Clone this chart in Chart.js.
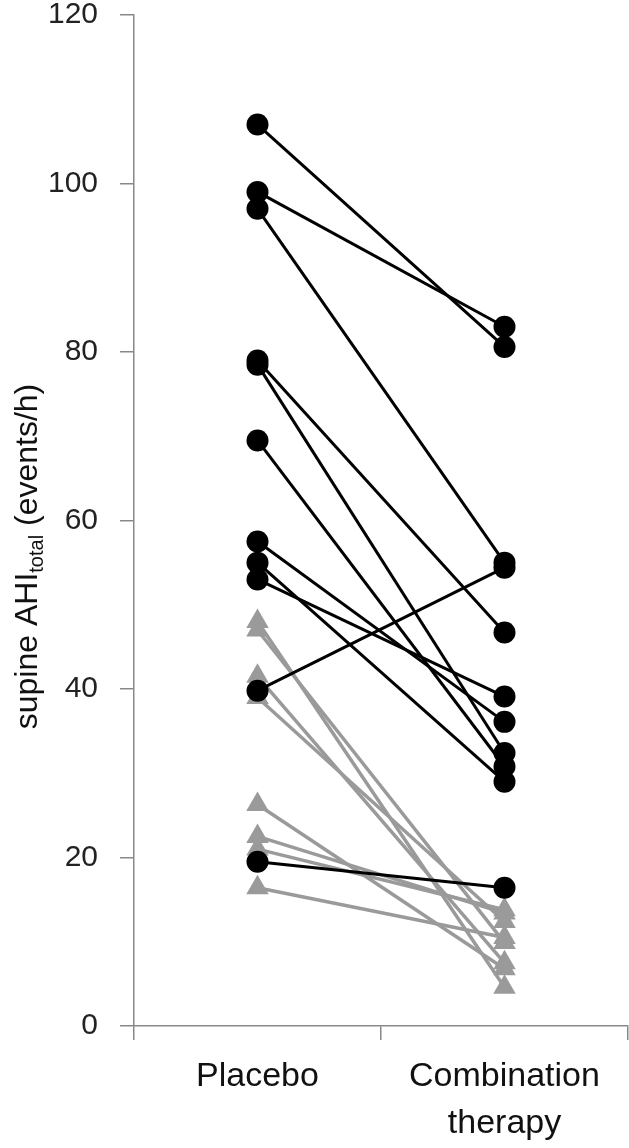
<!DOCTYPE html>
<html>
<head>
<meta charset="utf-8">
<script src="https://cdn.jsdelivr.net/npm/chart.js@4.4.0/dist/chart.umd.min.js"></script>
<style>
  html, body { margin: 0; padding: 0; background: #fff; overflow: hidden; }
  canvas { display: block; }
</style>
</head>
<body>
<canvas id="chartCanvas" width="629" height="1148"></canvas>
<script>
/* global Chart */

const GROUPS        = ['Placebo', ['Combination', 'therapy']];
const Y_TICK_STEP   = 20;
const Y_MAX         = 120;

// black circles, one entry per subject (placebo -> combination)
const blackPlacebo  = [107, 99, 97, 79, 78.5, 69.5, 57.5, 55, 53, 39.8, 19.5];
const blackCombo    = [80.6, 83, 55, 46.7, 32.4, 30.8, 36.1, 29, 39.1, 54.4, 16.4];

// grey triangles
const greyPlacebo   = [48, 47, 41.5, 39, 26.3, 22.5, 21, 16.4];
const greyCombo     = [4.6, 9.9, 7.5, 12.4, 6.8, 13.4, 13.8, 10.5];

const FONT_FAMILY   = "'Liberation Sans', Arial, sans-serif";
const AXIS_COLOR    = '#888888';
const PLOT_RIGHT    = 628;

var makeSubject = function makeSubject(placebo, combo, color, style, radius, width) {
   return {
      data:             [placebo, combo],
      borderColor:      color,
      backgroundColor:  color,
      borderWidth:      width,
      pointStyle:       style,
      pointRadius:      radius,
      pointHoverRadius: radius,
      pointBorderWidth: 0,
      tension:          0
   };
};

// black first: dataset 0 is drawn last, so circles sit on the triangles
var datasets = [];
blackPlacebo.forEach((v, i) => datasets.push(makeSubject(v, blackCombo[i], '#000000', 'circle', 11, 3)));
greyPlacebo.forEach((v, i) => datasets.push(makeSubject(v, greyCombo[i], '#9a9a9a', 'triangle', 13, 3.5)));

// stretch the category axis out to the right edge of the canvas
var stretchRight = {
   id: 'stretchRight',
   afterLayout: function afterLayout(chart) {
      const xs    = chart.scales.x;
      const shift = PLOT_RIGHT - chart.chartArea.right;
      if (shift <= 0) {
         return;
      }
      xs.right            += shift;
      xs.width            += shift;
      chart.chartArea.right += shift;
      chart.chartArea.width += shift;
      xs.configure();
   }
};

var axisTitle = {
   id: 'axisTitle',
   afterDraw: function afterDraw(chart) {
      const ctx  = chart.ctx;
      const area = chart.chartArea;
      const cy   = (area.top + area.bottom) / 2 + 36;
      const big  = '32px ' + FONT_FAMILY;
      const sub  = '20px ' + FONT_FAMILY;
      const parts = [
         { text: 'supine AHI', font: big, shift: 0 },
         { text: 'total',      font: sub, shift: 6 },
         { text: ' (events/h)', font: big, shift: 0 }
      ];

      ctx.save();
      ctx.fillStyle    = '#111111';
      ctx.textBaseline = 'alphabetic';
      ctx.textAlign    = 'left';
      var total = 0;
      parts.forEach(p => { ctx.font = p.font; p.w = ctx.measureText(p.text).width; total += p.w; });
      ctx.translate(37, cy);
      ctx.rotate(-Math.PI / 2);
      var x = -total / 2;
      parts.forEach(p => {
         ctx.font = p.font;
         ctx.fillText(p.text, x, p.shift);
         x += p.w;
      });
      ctx.restore();
   }
};

var chartConfig = {
   type: 'line',
   data: {
      labels:   GROUPS,
      datasets: datasets
   },
   options: {
      responsive:          false,
      animation:           false,
      devicePixelRatio:    1,
      layout: {
         padding: { top: 15, right: 0, left: 0, bottom: 0 }
      },
      plugins: {
         legend:  { display: false },
         tooltip: { enabled: false }
      },
      scales: {
         x: {
            type:   'category',
            offset: true,
            grid: {
               offset:          true,
               drawOnChartArea: false,
               color:           AXIS_COLOR,
               lineWidth:       1.5,
               tickLength:      14
            },
            border: { color: AXIS_COLOR, width: 1.5 },
            ticks: {
               color:       '#111111',
               font:        { size: 34, family: FONT_FAMILY, lineHeight: 1.38 },
               padding:     13,
               maxRotation: 0,
               autoSkip:    false
            },
            afterFit: function afterFit(scale) {
               scale.height       = 122;
               scale.paddingLeft  = 0;
               scale.paddingRight = 0;
            }
         },
         y: {
            min: 0,
            max: Y_MAX,
            grid: {
               drawOnChartArea: false,
               color:           AXIS_COLOR,
               lineWidth:       1.5,
               tickLength:      14
            },
            border: { color: AXIS_COLOR, width: 1.5 },
            ticks: {
               stepSize: Y_TICK_STEP,
               color:    '#222222',
               font:     { size: 30, family: FONT_FAMILY },
               padding:  22
            },
            afterFit: function afterFit(scale) {
               scale.width         = 134;
               scale.paddingTop    = 0;
               scale.paddingBottom = 0;
            }
         }
      }
   },
   plugins: [stretchRight, axisTitle]
};

new Chart(document.getElementById('chartCanvas'), chartConfig);
</script>
</body>
</html>
